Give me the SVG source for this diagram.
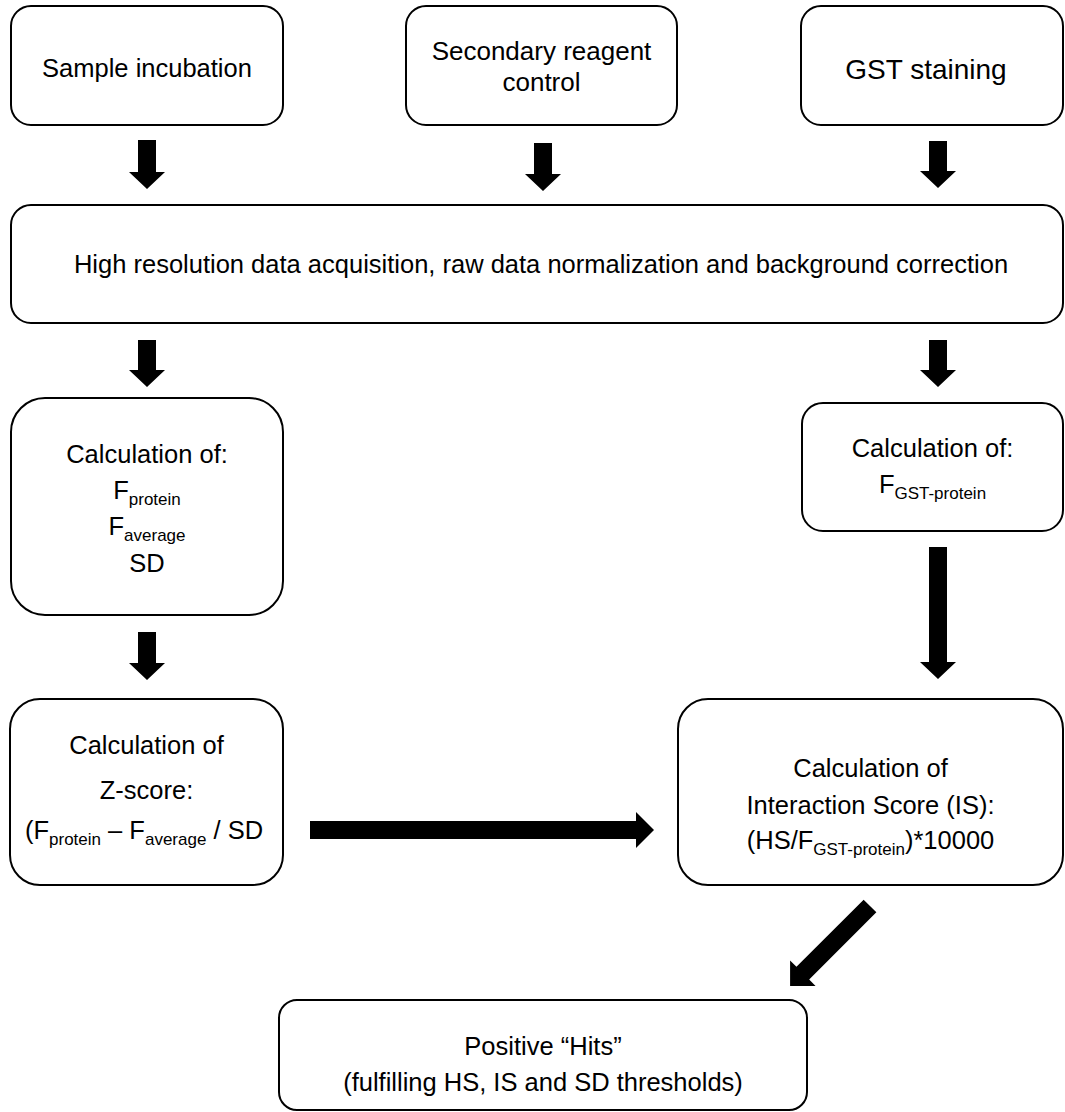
<svg xmlns="http://www.w3.org/2000/svg" width="1065" height="1112" viewBox="0 0 1065 1112">
<style>
.box{fill:#fff;stroke:#000;stroke-width:2}
.t{font-family:"Liberation Sans",Arial,sans-serif;font-size:25.5px;fill:#000;text-anchor:middle}
.s{font-size:17px}
.arr{fill:#000;stroke:none}
</style>
<rect width="1065" height="1112" fill="#fff"/>
<g id="connectors">
<polygon class="arr" points="138,140 156,140 156,172 165,172 147,189 129,172 138,172"/>
<polygon class="arr" points="534,143 552,143 552,174 561,174 543,191 525,174 534,174"/>
<polygon class="arr" points="929,141 947,141 947,171 956,171 938,188 920,171 929,171"/>
<polygon class="arr" points="138,340 156,340 156,370 165,370 147,387 129,370 138,370"/>
<polygon class="arr" points="929,340 947,340 947,370 956,370 938,387 920,370 929,370"/>
<polygon class="arr" points="138,632 156,632 156,663 165,663 147,680 129,663 138,663"/>
<polygon class="arr" points="929,547 947,547 947,662 956,662 938,679 920,662 929,662"/>
<polygon class="arr" points="310,821 636,821 636,812 654,830 636,848 636,839 310,839"/>
<polygon class="arr" transform="translate(870,906) rotate(135)" points="0,-9 95,-9 95,-18 113,0 95,18 95,9 0,9"/>
</g>
<g id="sample-incubation">
<rect class="box" x="11" y="6" width="272" height="119" rx="20"/>
<text class="t" x="147" y="77">Sample incubation</text>
</g>
<g id="secondary-reagent-control">
<rect class="box" x="406" y="6" width="271" height="119" rx="20"/>
<text class="t" x="541.5" y="60" style="font-size:26px">Secondary reagent</text>
<text class="t" x="541.5" y="91" style="font-size:26px">control</text>
</g>
<g id="gst-staining">
<rect class="box" x="801" y="6" width="262" height="119" rx="20"/>
<text class="t" x="926" y="79" style="font-size:28px">GST staining</text>
</g>
<g id="data-acquisition">
<rect class="box" x="11" y="205" width="1052" height="118" rx="20"/>
<text class="t" x="541" y="273">High resolution data acquisition, raw data normalization and background correction</text>
</g>
<g id="calc-left">
<rect class="box" x="11" y="398" width="272" height="217" rx="34"/>
<text class="t" x="147" y="463">Calculation of:</text>
<text class="t" x="147" y="499">F<tspan class="s" dy="6">protein</tspan></text>
<text class="t" x="147" y="535">F<tspan class="s" dy="6">average</tspan></text>
<text class="t" x="147" y="572">SD</text>
</g>
<g id="calc-right">
<rect class="box" x="802" y="403" width="261" height="128" rx="21"/>
<text class="t" x="932.5" y="457">Calculation of:</text>
<text class="t" x="932.5" y="493">F<tspan class="s" dy="6">GST-protein</tspan></text>
</g>
<g id="z-score">
<rect class="box" x="10" y="699" width="273" height="186" rx="30"/>
<text class="t" x="146.5" y="754">Calculation of</text>
<text class="t" x="146.5" y="799">Z-score:</text>
<text class="t" x="144" y="839">(F<tspan class="s" dy="6">protein</tspan><tspan dy="-6"> – F</tspan><tspan class="s" dy="6">average</tspan><tspan dy="-6"> / SD</tspan></text>
</g>
<g id="interaction-score">
<rect class="box" x="678" y="699" width="385" height="186" rx="30"/>
<text class="t" x="870.5" y="777">Calculation of</text>
<text class="t" x="870.5" y="814">Interaction Score (IS):</text>
<text class="t" x="870.5" y="849">(HS/F<tspan class="s" dy="6">GST-protein</tspan><tspan dy="-6">)*10000</tspan></text>
</g>
<g id="positive-hits">
<rect class="box" x="279" y="1000" width="528" height="110" rx="18"/>
<text class="t" x="543" y="1055">Positive “Hits”</text>
<text class="t" x="543" y="1091">(fulfilling HS, IS and SD thresholds)</text>
</g>
</svg>
